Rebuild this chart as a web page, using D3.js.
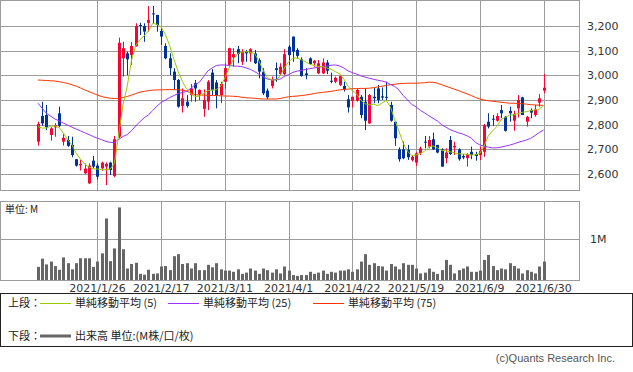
<!DOCTYPE html>
<html>
<head>
<meta charset="utf-8">
<script src="https://cdn.jsdelivr.net/npm/d3@7"></script>
<style>
  body { margin: 0; background: #fff; }
  svg { display: block; }
  text { font-family: "DejaVu Sans", sans-serif; }
</style>
</head>
<body>
<div id="chart"></div>
<script>
// trading days 2021/1/5 - 2021/6/30
let dates = [
  "2021/1/5","2021/1/6","2021/1/7","2021/1/8","2021/1/12","2021/1/13","2021/1/14","2021/1/15","2021/1/18","2021/1/19",
  "2021/1/20","2021/1/21","2021/1/22","2021/1/25","2021/1/26","2021/1/27","2021/1/28","2021/1/29","2021/2/1","2021/2/2",
  "2021/2/3","2021/2/4","2021/2/5","2021/2/8","2021/2/9","2021/2/10","2021/2/12","2021/2/15","2021/2/16","2021/2/17",
  "2021/2/18","2021/2/19","2021/2/22","2021/2/24","2021/2/25","2021/2/26","2021/3/1","2021/3/2","2021/3/3","2021/3/4",
  "2021/3/5","2021/3/8","2021/3/9","2021/3/10","2021/3/11","2021/3/12","2021/3/15","2021/3/16","2021/3/17","2021/3/18",
  "2021/3/19","2021/3/22","2021/3/23","2021/3/24","2021/3/25","2021/3/26","2021/3/29","2021/3/30","2021/3/31","2021/4/1",
  "2021/4/2","2021/4/5","2021/4/6","2021/4/7","2021/4/8","2021/4/9","2021/4/12","2021/4/13","2021/4/14","2021/4/15",
  "2021/4/16","2021/4/19","2021/4/20","2021/4/21","2021/4/22","2021/4/23","2021/4/26","2021/4/27","2021/4/28","2021/4/30",
  "2021/5/6","2021/5/7","2021/5/10","2021/5/11","2021/5/12","2021/5/13","2021/5/14","2021/5/17","2021/5/18","2021/5/19",
  "2021/5/20","2021/5/21","2021/5/24","2021/5/25","2021/5/26","2021/5/27","2021/5/28","2021/5/31","2021/6/1","2021/6/2",
  "2021/6/3","2021/6/4","2021/6/7","2021/6/8","2021/6/9","2021/6/10","2021/6/11","2021/6/14","2021/6/15","2021/6/16",
  "2021/6/17","2021/6/18","2021/6/21","2021/6/22","2021/6/23","2021/6/24","2021/6/25","2021/6/28","2021/6/29","2021/6/30"
];

let open = [2731,2835,2839,2758,2789,2846,2731,2738,2718,2660, 2635,2603,2562,2654,2634,2623,2630,2646,2592,2751,
  3069,3089,3082,3119,3204,3200,3213,3251,3245,3180, 3119,3069,3015,2981,2876,2893,2920,2968,2923,2864,
  2893,3011,2971,2920,2974,3042,3073,3106,3055,3096, 3089,3089,3062,3015,2938,2957,3029,3005,3005,3116,
  3157,3103,3065,3008,3069,3049,3008,3008,3052,2978, 2974,2961,2957,2903,2897,2897,2913,2893,2805,2913,
  2947,2915,2913,2880,2812,2700,2700,2698,2657,2646, 2684,2731,2711,2741,2718,2700,2664,2738,2708,2700,
  2673,2664,2690,2681,2677,2690,2812,2824,2816,2859, 2832,2856,2816,2866,2911,2812,2859,2839,2889,2938];
let high = [2812,2893,2880,2790,2806,2873,2762,2754,2751,2661, 2657,2643,2643,2673,2643,2650,2647,2650,2754,3153,
  3136,3096,3136,3211,3213,3211,3281,3281,3245,3191, 3130,3089,3029,2985,2947,2920,2965,2981,2943,2943,
  2981,3025,2981,2974,3049,3112,3110,3119,3106,3103, 3110,3103,3069,3029,2947,2995,3052,3049,3106,3123,
  3157,3110,3073,3029,3073,3062,3062,3069,3062,3011, 2995,3001,2974,2920,2913,2947,2920,2947,2924,2951,
  2961,2951,2974,2893,2812,2708,2731,2718,2677,2690, 2711,2754,2754,2768,2718,2704,2704,2754,2731,2704,
  2681,2684,2711,2690,2711,2803,2846,2839,2846,2880, 2835,2873,2856,2920,2913,2835,2866,2880,2924,3005];
let low = [2715,2795,2778,2735,2751,2790,2715,2710,2668,2630, 2614,2600,2559,2623,2578,2613,2555,2596,2587,2745,
  2995,3001,3042,3116,3163,3136,3177,3211,3177,3123, 3065,3001,2943,2869,2849,2869,2893,2893,2900,2832,
  2859,2920,2866,2887,2947,3035,3035,3049,3042,3055, 3055,3046,2988,2920,2903,2947,2974,3001,3001,3042,
  3055,3069,2995,2984,3042,3035,3005,3005,3005,2968, 2968,2957,2934,2849,2870,2893,2826,2778,2803,2887,
  2887,2900,2900,2812,2714,2650,2660,2657,2650,2632, 2677,2704,2704,2697,2684,2630,2643,2677,2677,2654,
  2660,2630,2660,2654,2657,2670,2785,2795,2812,2826, 2772,2812,2775,2829,2839,2792,2826,2832,2873,2927];
let close = [2803,2805,2790,2785,2797,2795,2747,2714,2677,2634, 2641,2622,2634,2630,2589,2646,2641,2616,2741,3132,
  3110,3065,3119,3200,3200,3177,3224,3249,3204,3157, 3069,3029,2981,2873,2907,2876,2947,2947,2941,2900,
  2974,2941,2920,2965,3029,3110,3086,3086,3096,3089, 3106,3049,3015,2927,2911,2984,3022,3035,3086,3082,
  3096,3079,2997,3001,3046,3059,3049,3052,3019,2976, 2990,2997,2943,2870,2913,2941,2839,2816,2920,2907,
  2900,2910,2910,2816,2745,2660,2664,2668,2670,2684, 2704,2727,2738,2700,2687,2630,2687,2681,2714,2660,
  2667,2681,2677,2673,2694,2799,2792,2820,2835,2846, 2775,2846,2843,2900,2839,2832,2849,2862,2907,2950];

// 単位: M
let volume = [0.32,0.52,0.38,0.45,0.34,0.25,0.55,0.41,0.26,0.41, 0.53,0.53,0.53,0.32,0.45,0.65,1.50,0.46,0.77,1.77,
  0.75,0.28,0.39,0.42,0.15,0.13,0.25,0.15,0.16,0.33, 0.34,0.24,0.58,0.63,0.39,0.41,0.28,0.41,0.24,0.24,
  0.37,0.31,0.41,0.26,0.23,0.23,0.20,0.26,0.15,0.18, 0.28,0.23,0.15,0.28,0.24,0.18,0.26,0.16,0.33,0.23,
  0.12,0.10,0.12,0.12,0.20,0.15,0.18,0.23,0.15,0.20, 0.18,0.23,0.23,0.26,0.20,0.26,0.45,0.63,0.37,0.41,
  0.34,0.33,0.23,0.39,0.33,0.26,0.41,0.37,0.37,0.28, 0.16,0.18,0.28,0.20,0.15,0.24,0.49,0.37,0.16,0.24,
  0.28,0.33,0.20,0.20,0.23,0.49,0.61,0.34,0.24,0.28, 0.26,0.41,0.34,0.28,0.16,0.24,0.20,0.16,0.33,0.45];

let ma5 = [2792,2786,2787,2794,2795,2788,2765,2740,2718,2684, 2660,2640,2628,2621,2620,2618,2617,2620,2643,2760,
  2880,2955,3060,3120,3145,3160,3180,3211,3207,3195, 3165,3120,3065,3015,2975,2945,2925,2914,2916,2927,
  2938,2940,2942,2955,2990,3030,3065,3088,3094,3096, 3093,3088,3058,3020,2990,2982,2980,2998,3030,3055,
  3070,3070,3063,3055,3045,3040,3035,3035,3030,3025, 3015,3006,2985,2955,2938,2925,2900,2885,2880,2883,
  2877,2888,2898,2870,2820,2772,2724,2692,2675,2677, 2683,2692,2710,2714,2706,2696,2694,2690,2686,2682,
  2681,2680,2677,2678,2684,2712,2755,2775,2792,2820, 2830,2838,2840,2845,2850,2853,2857,2860,2863,2878];
let ma25 = [2887,2866,2846,2834,2823,2815,2806,2798,2790,2782, 2775,2767,2760,2752,2745,2739,2732,2728,2728,2740,
  2752,2760,2775,2795,2812,2828,2840,2857,2875,2890, 2900,2910,2918,2926,2930,2935,2948,2962,2972,2995,
  3018,3030,3040,3042,3042,3040,3038,3037,3035,3030, 3024,3015,3005,2995,2985,2982,2983,2985,2995,3003,
  3012,3017,3020,3024,3027,3030,3033,3035,3038,3041, 3042,3038,3030,3018,3011,3005,2998,2993,2988,2984,
  2980,2977,2972,2963,2955,2940,2918,2900,2882,2872, 2858,2848,2836,2826,2815,2800,2790,2780,2773,2767,
  2762,2755,2745,2728,2718,2713,2709,2706,2706,2709, 2713,2717,2722,2728,2733,2738,2745,2756,2768,2778];
let ma75 = [2981,2980,2979,2978,2977,2974,2971,2967,2962,2956, 2949,2941,2934,2927,2920,2914,2910,2907,2906,2907,
  2910,2914,2920,2926,2932,2935,2938,2940,2941,2941, 2942,2942,2942,2941,2940,2936,2928,2922,2920,2920,
  2919,2918,2918,2917,2916,2916,2915,2914,2911,2909, 2908,2907,2905,2904,2904,2904,2904,2906,2910,2913,
  2915,2916,2918,2920,2923,2926,2929,2931,2933,2935, 2938,2941,2943,2944,2946,2946,2947,2947,2948,2950,
  2953,2956,2959,2962,2964,2966,2967,2968,2968,2968, 2969,2970,2972,2972,2968,2962,2956,2950,2944,2938,
  2931,2925,2918,2910,2904,2900,2897,2895,2893,2891, 2889,2887,2887,2886,2885,2883,2881,2880,2879,2878];

let priceTicks = [2600, 2700, 2800, 2900, 3000, 3100, 3200];
let dateTicks = ["2021/1/26","2021/2/17","2021/3/11","2021/4/1","2021/4/22","2021/5/19","2021/6/9","2021/6/30"];

let legendItems = [
  {label: "単純移動平均 (5)", color: "#99cc00", x: 40},
  {label: "単純移動平均 (25)", color: "#9933ff", x: 168},
  {label: "単純移動平均 (75)", color: "#ff3300", x: 313}
];

let width = 633, height = 372;
let gridColor = "#9c9c9c";
let upColor = "#ff0033", downColor = "#003399";
let jpFont = "'Noto Sans CJK JP', sans-serif";

let svg = d3.select("#chart").append("svg")
  .attr("width", width)
  .attr("height", height);

let x = d3.scalePoint().domain(dates).range([38, 543.5]);
let y = d3.scaleLinear().domain([2600, 3200]).range([174, 26]);
let yv = d3.scaleLinear().domain([0, 1]).range([280, 239]);

let px = d => Math.round(x(d)) + 0.5;

// ---- upper panel
let upper = svg.append("g");
upper.selectAll(".hgrid").data(priceTicks).enter().append("line")
  .attr("x1", 1).attr("x2", 579)
  .attr("y1", d => Math.round(y(d)) + 0.5).attr("y2", d => Math.round(y(d)) + 0.5)
  .attr("stroke", gridColor);
upper.selectAll(".vgrid").data(dateTicks).enter().append("line")
  .attr("x1", px).attr("x2", px)
  .attr("y1", 0).attr("y2", 190)
  .attr("stroke", gridColor);
upper.append("rect")
  .attr("x", 0.5).attr("y", 0.5).attr("width", 579).attr("height", 190)
  .attr("fill", "none").attr("stroke", gridColor);

upper.selectAll(".ptick").data(priceTicks).enter().append("text")
  .attr("x", 587).attr("y", d => y(d) + 4)
  .attr("font-size", 11).attr("fill", "#333")
  .text(d => d3.format(",")(d));

let candles = upper.append("g");
dates.forEach(function (d, i) {
  let up = close[i] >= open[i];
  let c = up ? upColor : downColor;
  let cx = px(d);
  candles.append("line")
    .attr("x1", cx).attr("x2", cx)
    .attr("y1", y(high[i])).attr("y2", y(low[i]))
    .attr("stroke", c).attr("stroke-width", 1);
  let yt = y(Math.max(open[i], close[i])), yb = y(Math.min(open[i], close[i]));
  candles.append("rect")
    .attr("x", cx - 1.5).attr("width", 3)
    .attr("y", yt).attr("height", Math.max(1, yb - yt))
    .attr("fill", c);
});

let lineGen = arr => d3.line().x((d, i) => x(dates[i])).y(d => y(d))(arr);
[[ma75, "#ff3300"], [ma25, "#9933ff"], [ma5, "#99cc00"]].forEach(function (m) {
  upper.append("path")
    .attr("d", lineGen(m[0]))
    .attr("fill", "none").attr("stroke", m[1]).attr("stroke-width", 1);
});

// ---- volume panel
let lower = svg.append("g");
lower.append("line")
  .attr("x1", 1).attr("x2", 580).attr("y1", 239.5).attr("y2", 239.5)
  .attr("stroke", gridColor);
lower.selectAll(".vgrid").data(dateTicks).enter().append("line")
  .attr("x1", px).attr("x2", px)
  .attr("y1", 201).attr("y2", 280)
  .attr("stroke", gridColor);
lower.selectAll(".vol").data(volume).enter().append("rect")
  .attr("x", (d, i) => px(dates[i]) - 1.5).attr("width", 3)
  .attr("y", d => yv(d)).attr("height", d => 280 - yv(d))
  .attr("fill", "#666");
lower.append("rect")
  .attr("x", 0.5).attr("y", 201.5).attr("width", 579).attr("height", 79)
  .attr("fill", "none").attr("stroke", gridColor);
lower.append("text").attr("x", 5).attr("y", 213)
  .attr("font-size", 10).attr("fill", "#222")
  .style("font-family", jpFont)
  .text("単位: M");
lower.append("text").attr("x", 590).attr("y", yv(1) + 4)
  .attr("font-size", 11).attr("fill", "#333")
  .text("1M");

lower.selectAll(".dtick").data(dateTicks).enter().append("text")
  .attr("x", d => x(d)).attr("y", 292)
  .attr("text-anchor", "middle")
  .attr("font-size", 11).attr("fill", "#333")
  .text(d => d);

// ---- legend
let leg = svg.append("g");
leg.append("rect")
  .attr("x", 0.5).attr("y", 293.5).attr("width", 632).attr("height", 53)
  .attr("fill", "#fff").attr("stroke", "#222");
leg.append("text").attr("x", 8).attr("y", 307).attr("font-size", 11).attr("fill", "#222")
  .style("font-family", jpFont).text("上段：");
legendItems.forEach(function (it) {
  leg.append("line").attr("x1", it.x).attr("x2", it.x + 31)
    .attr("y1", 303.5).attr("y2", 303.5).attr("stroke", it.color);
  leg.append("text").attr("x", it.x + 35).attr("y", 307)
    .attr("font-size", 11).attr("fill", "#222")
    .style("font-family", jpFont)
    .text(it.label);
});
leg.append("text").attr("x", 8).attr("y", 340).attr("font-size", 11).attr("fill", "#222")
  .style("font-family", jpFont).text("下段：");
leg.append("line").attr("x1", 40).attr("x2", 71).attr("y1", 336).attr("y2", 336)
  .attr("stroke", "#666").attr("stroke-width", 3);
leg.append("text").attr("x", 75).attr("y", 340)
  .attr("font-size", 11).attr("fill", "#222")
  .style("font-family", jpFont)
  .text("出来高 単位:(M株/口/枚)");

svg.append("text").attr("x", 615).attr("y", 362)
  .attr("text-anchor", "end")
  .attr("font-size", 11).attr("fill", "#555")
  .style("font-family", "'Liberation Sans', sans-serif")
  .text("(c)Quants Research Inc.");
</script>
</body>
</html>
